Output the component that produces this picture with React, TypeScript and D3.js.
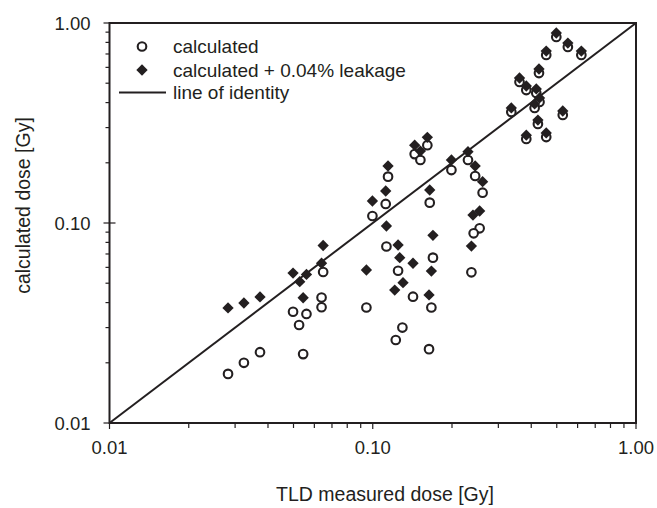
import React from "react";
import * as d3 from "d3";

const W = 657;
const H = 508;
const margin = { left: 109.5, right: 21, top: 23, bottom: 85 };

// measured (TLD) dose vs calculated dose, open circles
const calcX = [
  0.0282, 0.0324, 0.0373, 0.0498, 0.0525, 0.056, 0.0544, 0.0648, 0.0639, 0.0639,
  0.0946, 0.0997, 0.1127, 0.112, 0.1143, 0.1248, 0.1296, 0.1223, 0.1422, 0.1443,
  0.1517, 0.1612, 0.1646, 0.1693, 0.167, 0.1636, 0.199, 0.23, 0.2449, 0.2614,
  0.2547, 0.2417, 0.237, 0.498, 0.551, 0.62, 0.456, 0.428, 0.361, 0.383,
  0.418, 0.43, 0.412, 0.336, 0.527, 0.424, 0.383, 0.456,
];
const calcY = [
  0.0176, 0.02, 0.0226, 0.036, 0.0309, 0.0351, 0.0221, 0.0569, 0.0424, 0.0379,
  0.0378, 0.1084, 0.0763, 0.1245, 0.1705, 0.0577, 0.03, 0.026, 0.0428, 0.221,
  0.2065, 0.245, 0.1264, 0.0671, 0.0378, 0.0234, 0.184, 0.2065, 0.1718, 0.1418,
  0.0941, 0.0888, 0.0567, 0.851, 0.759, 0.692, 0.692, 0.562, 0.507, 0.462,
  0.447, 0.403, 0.376, 0.359, 0.347, 0.313, 0.263, 0.269,
];

// calculated + 0.04% leakage, filled diamonds
const leakX = [
  0.0282, 0.0324, 0.0373, 0.0498, 0.0528, 0.056, 0.0544, 0.0648, 0.0639, 0.0946,
  0.0997, 0.1127, 0.112, 0.1143, 0.1248, 0.1266, 0.1303, 0.1212, 0.1422, 0.1443,
  0.1517, 0.1612, 0.1646, 0.1693, 0.167, 0.1636, 0.199, 0.23, 0.2449, 0.2614,
  0.2547, 0.2403, 0.237, 0.498, 0.551, 0.62, 0.456, 0.428, 0.361, 0.383,
  0.418, 0.43, 0.412, 0.336, 0.527, 0.424, 0.383, 0.456,
];
const leakY = [
  0.0376, 0.0398, 0.0427, 0.0562, 0.0509, 0.0553, 0.0423, 0.0772, 0.0629, 0.0582,
  0.1288, 0.0966, 0.1445, 0.1928, 0.0776, 0.0671, 0.0503, 0.0462, 0.0629, 0.245,
  0.229, 0.268, 0.1462, 0.0868, 0.0575, 0.0437, 0.2065, 0.2273, 0.1928, 0.1609,
  0.1148, 0.1096, 0.0767, 0.891, 0.794, 0.724, 0.724, 0.589, 0.531, 0.484,
  0.468, 0.422, 0.394, 0.376, 0.363, 0.327, 0.275, 0.282,
];

const majorTicks = [0.01, 0.1, 1];
const tickLabels = ["0.01", "0.10", "1.00"];
const minorTicks = [2, 3, 4, 5, 6, 7, 8, 9].flatMap((m) => [m * 0.01, m * 0.1]);

const font = "Liberation Sans, Arial, sans-serif";
const ink = "#231f20";

export default function App() {
  const x = d3.scaleLog().domain([0.01, 1]).range([margin.left, W - margin.right]);
  const y = d3.scaleLog().domain([0.01, 1]).range([H - margin.bottom, margin.top]);
  const [x0, x1] = x.range();
  const [y0, y1] = y.range();

  // square turned 45deg -> symmetric diamond
  const diamond = d3.symbol().type(d3.symbolSquare).size(64)();

  return (
    <div style={{ position: "absolute", left: 0, top: 0 }}>
      <svg width={W} height={H} style={{ display: "block", background: "#fff" }} fontFamily={font}>
        {/* identity line */}
        <line x1={x(0.01)} y1={y(0.01)} x2={x(1)} y2={y(1)} stroke={ink} strokeWidth={2} />

        {/* markers */}
        {calcX.map((v, i) => (
          <circle key={"c" + i} cx={x(v)} cy={y(calcY[i])} r={4.3} fill="#fff" stroke={ink} strokeWidth={2.1} />
        ))}
        {leakX.map((v, i) => (
          <path key={"d" + i} d={diamond} transform={`translate(${x(v)},${y(leakY[i])}) rotate(45)`} fill={ink} />
        ))}

        {/* frame */}
        <rect x={x0} y={y1} width={x1 - x0} height={y0 - y1} fill="none" stroke={ink} strokeWidth={2} />

        {/* x ticks */}
        {minorTicks.map((t) => (
          <line key={"xm" + t} x1={x(t)} x2={x(t)} y1={y0} y2={y0 + 5} stroke={ink} strokeWidth={1.2} />
        ))}
        {majorTicks.map((t, i) => (
          <g key={"xM" + t}>
            <line x1={x(t)} x2={x(t)} y1={y0} y2={y0 + 6} stroke={ink} strokeWidth={1.2} />
            <text x={x(t)} y={453.5} textAnchor="middle" fontSize={18.5} fill={ink}>
              {tickLabels[i]}
            </text>
          </g>
        ))}

        {/* y ticks */}
        {minorTicks.map((t) => (
          <line key={"ym" + t} x1={x0 - 4} x2={x0} y1={y(t)} y2={y(t)} stroke={ink} strokeWidth={1.2} />
        ))}
        {majorTicks.map((t, i) => (
          <g key={"yM" + t}>
            <line x1={x0 - 6} x2={x0 + 6} y1={y(t)} y2={y(t)} stroke={ink} strokeWidth={1.2} />
            <text x={90.5} y={y(t) + 7} textAnchor="end" fontSize={18.5} fill={ink}>
              {tickLabels[i]}
            </text>
          </g>
        ))}

        {/* axis titles */}
        <text x={385} y={501} textAnchor="middle" fontSize={19.5} fill={ink}>
          TLD measured dose [Gy]
        </text>
        <text transform="translate(29.5,205.5) rotate(-90)" textAnchor="middle" fontSize={19.5} fill={ink}>
          calculated dose [Gy]
        </text>

        {/* legend */}
        <g fontSize={19} fill={ink}>
          <circle cx={142} cy={46.5} r={4.3} fill="#fff" stroke={ink} strokeWidth={2.1} />
          <text x={173} y={53}>calculated</text>
          <path d={diamond} transform="translate(142,70) rotate(45)" fill={ink} />
          <text x={173} y={76.5}>calculated + 0.04% leakage</text>
          <line x1={119} x2={166} y1={92.5} y2={92.5} stroke={ink} strokeWidth={2} />
          <text x={173} y={99}>line of identity</text>
        </g>
      </svg>
    </div>
  );
}
